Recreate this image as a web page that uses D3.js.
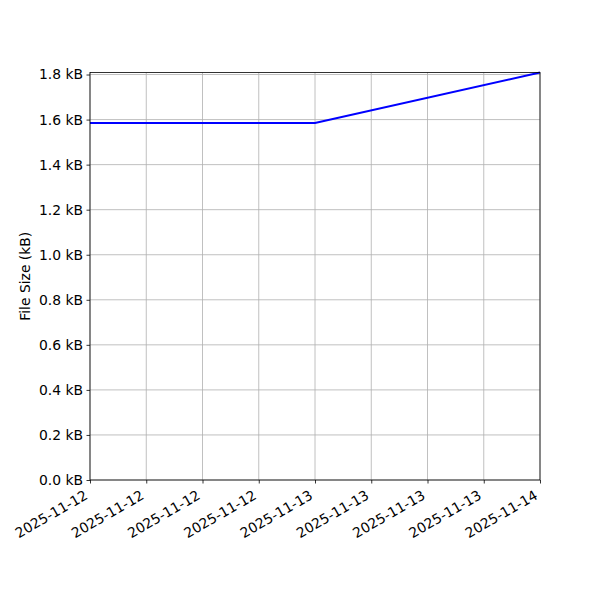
<!DOCTYPE html>
<html>
<head>
<meta charset="utf-8">
<script src="https://cdn.jsdelivr.net/npm/d3@7"></script>
<style>
  body { margin: 0; background: #fff; }
  svg text { font-family: "DejaVu Sans", sans-serif; fill: #000; }
</style>
</head>
<body>
<svg id="chart" width="600" height="600"></svg>
<script>
// --- data ---
const dates = ["2025-11-12T00:00", "2025-11-13T00:00", "2025-11-14T00:00"];
const sizesKB = [1.585, 1.585, 1.809];
const yTicks = [0, 0.2, 0.4, 0.6, 0.8, 1.0, 1.2, 1.4, 1.6, 1.8];
const xTickStepHours = 6;

const parse = d3.timeParse("%Y-%m-%dT%H:%M");
const points = dates.map((d, i) => ({ t: parse(d), v: sizesKB[i] }));

// --- layout ---
const svg = d3.select("#chart");
const plotL = 90, plotR = 540, plotT = 72.5, plotB = 480;
const fontPx = 13.9;

const x = d3.scaleTime()
  .domain(d3.extent(points, d => d.t))
  .range([plotL, plotR]);
const y = d3.scaleLinear()
  .domain([0, d3.max(sizesKB)])
  .range([plotB, plotT]);

const xTicks = d3.timeHour.every(xTickStepHours).range(x.domain()[0], d3.timeHour.offset(x.domain()[1], 1));
const fmt = d3.timeFormat("%Y-%m-%d");

// grid
const grid = svg.append("g").attr("stroke", "#b0b0b0").attr("stroke-width", 0.8);
grid.selectAll("line.gx").data(xTicks).join("line")
  .attr("x1", d => x(d)).attr("x2", d => x(d))
  .attr("y1", plotT).attr("y2", plotB);
grid.selectAll("line.gy").data(yTicks).join("line")
  .attr("x1", plotL).attr("x2", plotR)
  .attr("y1", d => y(d)).attr("y2", d => y(d));

// line
const line = d3.line().x(d => x(d.t)).y(d => y(d.v));
svg.append("path").datum(points)
  .attr("d", line)
  .attr("fill", "none")
  .attr("stroke", "#0000ff")
  .attr("stroke-width", 2);

// frame
svg.append("rect")
  .attr("x", plotL).attr("y", plotT)
  .attr("width", plotR - plotL).attr("height", plotB - plotT)
  .attr("fill", "none").attr("stroke", "#000").attr("stroke-width", 0.8);

// y axis
const yAxis = svg.append("g").attr("transform", `translate(${plotL},0)`)
  .call(d3.axisLeft(y).tickValues(yTicks).tickSize(3.5).tickPadding(3.5)
    .tickFormat(d => d.toFixed(1) + " kB"));
yAxis.select(".domain").remove();
yAxis.selectAll("text").attr("font-size", fontPx).attr("font-family", "DejaVu Sans");
yAxis.selectAll("line").attr("stroke-width", 0.8);

// x axis
const xAxis = svg.append("g").attr("transform", `translate(0,${plotB})`)
  .call(d3.axisBottom(x).tickValues(xTicks).tickSize(3.5).tickFormat(fmt));
xAxis.select(".domain").remove();
xAxis.selectAll("line").attr("stroke-width", 0.8);
xAxis.selectAll("text")
  .attr("font-size", fontPx)
  .attr("font-family", "DejaVu Sans")
  .attr("text-anchor", "end")
  .attr("y", 0).attr("dy", "0.75em")
  .attr("transform", "translate(-7,9) rotate(-30)");

// y label
svg.append("text")
  .attr("transform", `translate(30,${(plotT + plotB) / 2}) rotate(-90)`)
  .attr("text-anchor", "middle")
  .attr("font-size", fontPx)
  .text("File Size (kB)");
</script>
</body>
</html>
